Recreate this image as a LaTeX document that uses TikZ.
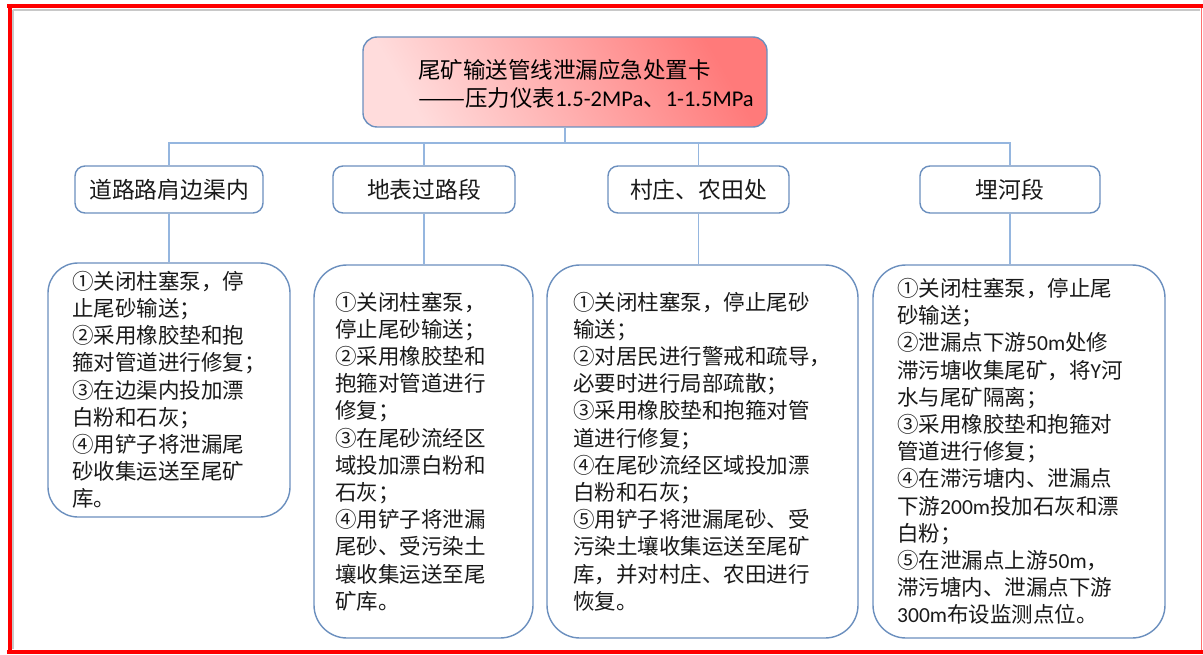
\documentclass[tikz,border=0pt]{standalone}
\usepackage{fontspec}
\setmainfont{Noto Sans CJK SC}
\newfontfamily\latfont{Carlito}
\newcommand\latin[1]{{\latfont #1}}
\definecolor{connc}{HTML}{95B6DF}
\definecolor{bordc}{HTML}{6B8FBE}
\definecolor{txtc}{HTML}{1A1A1A}
\definecolor{framered}{HTML}{FF0000}
\definecolor{framelight}{HTML}{FF7070}
\definecolor{shadowc}{HTML}{C8C8C8}
\definecolor{titledark}{HTML}{FF7A7A}
\definecolor{titlelight}{HTML}{FFDCDC}
\begin{document}
\begin{tikzpicture}[x=1pt,y=-1pt,
  conn/.style={draw=connc, line width=1.8pt},
  titlebox/.style={draw=bordc, line width=1.4pt, rounded corners=14pt,
    top color=titledark, bottom color=titlelight, shading angle=-60,
    minimum width=404pt, minimum height=90pt, inner sep=0pt},
  hdrbox/.style={draw=bordc, line width=1.4pt, rounded corners=10pt, fill=white,
    minimum height=47pt, inner sep=0pt, text=txtc,
    font=\fontsize{22.8}{26}\selectfont},
  bodybox/.style={draw=bordc, line width=1.4pt, rounded corners=33pt, fill=white,
    inner sep=0pt},
  bodytext/.style={anchor=west, align=left, inner sep=0pt, text=txtc,
    font=\fontsize{21.5}{27.2}\selectfont},
  titletext/.style={anchor=west, align=left, inner sep=0pt, text=black,
    font=\fontsize{22.5}{28}\selectfont}
]
\useasboundingbox (0,0) rectangle (1203,655);
% frame
\draw[shadowc, line width=2pt] (13,10) -- (1200,10);
\draw[shadowc, line width=2pt] (13,10) -- (13,649);
\draw[framelight, line width=1.5pt] (1201.5,6) -- (1201.5,652);
\draw[framered, line width=4pt] (7,6) -- (1203,6);
\draw[framered, line width=4pt] (9.5,4) -- (9.5,654);
\draw[framered, line width=4pt] (7,652) -- (1203,652);

% title
\node[titlebox] (T) at (565,82) {};
\node[titletext] (Tt) at (418,84) {尾矿输送管线泄漏应急处置卡\\\scalebox{1.25}[1]{——}压力仪表\latin{1.5-2MPa}、\latin{1-1.5MPa}};

% headers
\node[hdrbox, minimum width=188pt] (h1) at (169,189.5) {道路路肩边渠内};
\node[hdrbox, minimum width=182pt] (h2) at (424,189.5) {地表过路段};
\node[hdrbox, minimum width=181pt] (h3) at (698.5,189.5) {村庄、农田处};
\node[hdrbox, minimum width=180pt] (h4) at (1010,189.5) {埋河段};

% bodies
\node[bodybox, minimum width=242pt, minimum height=254pt, rounded corners=30pt] (b1) at (169,390) {};
\node[bodybox, minimum width=219pt, minimum height=373pt] (b2) at (423.5,451.5) {};
\node[bodybox, minimum width=311pt, minimum height=373pt] (b3) at (702.5,451.5) {};
\node[bodybox, minimum width=292pt, minimum height=373pt] (b4) at (1019,451.5) {};

\node[bodytext] (t1) at (72,390) {①关闭柱塞泵，停\\止尾砂输送；\\②采用橡胶垫和抱\\箍对管道进行修复；\\③在边渠内投加漂\\白粉和石灰；\\④用铲子将泄漏尾\\砂收集运送至尾矿\\库。};
\node[bodytext] (t2) at (335,451.5) {①关闭柱塞泵，\\停止尾砂输送；\\②采用橡胶垫和\\抱箍对管道进行\\修复；\\③在尾砂流经区\\域投加漂白粉和\\石灰；\\④用铲子将泄漏\\尾砂、受污染土\\壤收集运送至尾\\矿库。};
\node[bodytext] (t3) at (573,451.5) {①关闭柱塞泵，停止尾砂\\输送；\\②对居民进行警戒和疏导，\\必要时进行局部疏散；\\③采用橡胶垫和抱箍对管\\道进行修复；\\④在尾砂流经区域投加漂\\白粉和石灰；\\⑤用铲子将泄漏尾砂、受\\污染土壤收集运送至尾矿\\库，并对村庄、农田进行\\恢复。};
\node[bodytext] (t4) at (897,451.5) {①关闭柱塞泵，停止尾\\砂输送；\\②泄漏点下游\latin{50m}处修\\滞污塘收集尾矿，将\latin{Y}河\\水与尾矿隔离；\\③采用橡胶垫和抱箍对\\管道进行修复；\\④在滞污塘内、泄漏点\\下游\latin{200m}投加石灰和漂\\白粉；\\⑤在泄漏点上游\latin{50m}，\\滞污塘内、泄漏点下游\\\latin{300m}布设监测点位。};

% connectors
\coordinate (bus) at (565,143);
\draw[conn] (T.south) -- (T.south |- bus);
\draw[conn] (h1.north) -- (h1.north |- bus) -- (h4.north |- bus) -- (h4.north);
\draw[conn] (h2.north) -- (h2.north |- bus);
\draw[conn] (h3.north) -- (h3.north |- bus);
\draw[conn] (h1.south) -- (h1.south |- b1.north);
\draw[conn] (h2.south) -- (h2.south |- b2.north);
\draw[conn] (h3.south) -- (h3.south |- b3.north);
\draw[conn] (h4.south) -- (h4.south |- b4.north);
\end{tikzpicture}
\end{document}
